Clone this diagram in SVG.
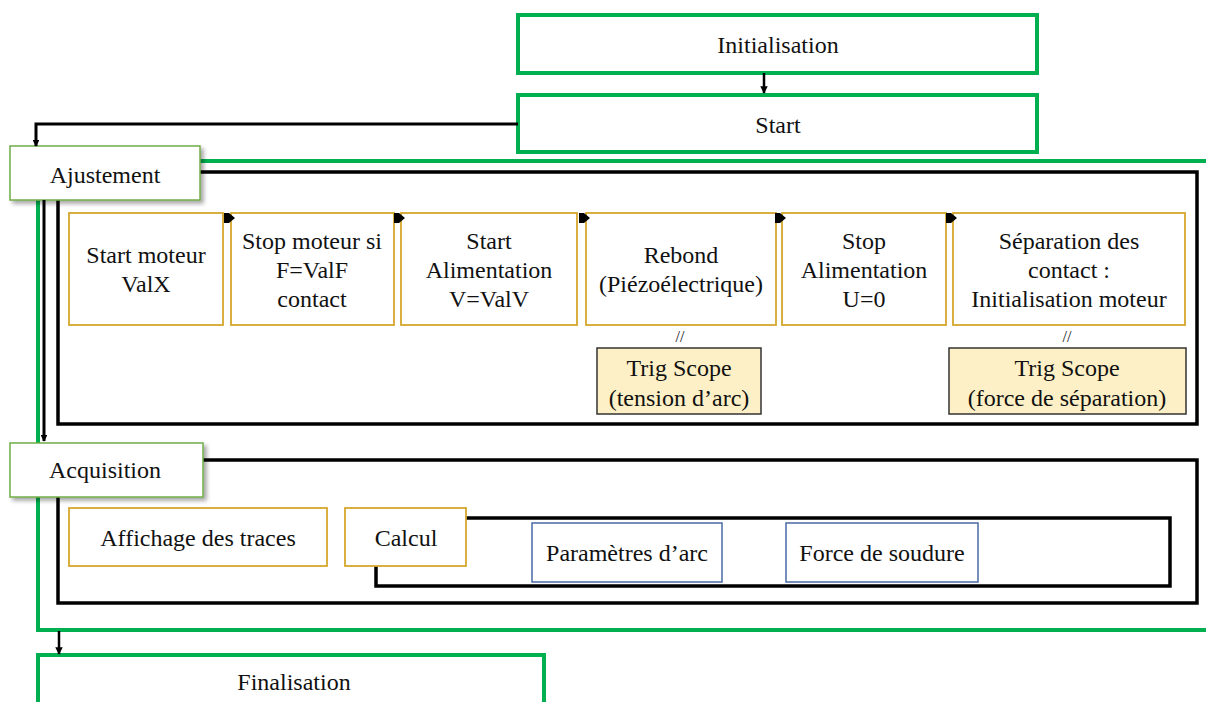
<svg xmlns="http://www.w3.org/2000/svg" width="1206" height="702" viewBox="0 0 1206 702">
<defs>
<style>
text{font-size:24px;fill:#111;text-anchor:middle}
.grn{fill:#fff;stroke:#00b050;stroke-width:4}
.grnl{fill:none;stroke:#00b050;stroke-width:4}
.phase{fill:#fff;stroke:#70ad47;stroke-width:1.5}
.blk{fill:none;stroke:#000;stroke-width:3.5}
.step{fill:#fff;stroke:#d4a72c;stroke-width:1.8}
.res{fill:#fff;stroke:#4a6aa5;stroke-width:1.5}
.trig{fill:#fdf0c6;stroke:#333;stroke-width:1.5}
.con{fill:none;stroke:#000;stroke-width:3}
.con2{fill:none;stroke:#000;stroke-width:2.5}
.sync{font-size:16px}
</style>
<marker id="ah" viewBox="0 0 10 10" refX="9" refY="5" markerWidth="3" markerHeight="3" orient="auto">
<path d="M0,0 L10,5 L0,10 Z" fill="#000"/>
</marker>
<marker id="sh" viewBox="0 0 10 10" refX="9" refY="5" markerWidth="2.2" markerHeight="2.2" orient="auto">
<path d="M0,0 L10,5 L0,10 Z" fill="#000"/>
</marker>
<filter id="shadow" x="-10%" y="-10%" width="130%" height="140%">
<feDropShadow dx="3" dy="3" stdDeviation="2" flood-color="#000" flood-opacity="0.35"/>
</filter>
</defs>

<g id="containers">
<rect class="grnl" x="38" y="161" width="1190" height="469"/>
<rect class="blk" x="58" y="172" width="1139" height="252"/>
<rect class="blk" x="58" y="460" width="1139" height="143"/>
<rect class="blk" x="376" y="518" width="794" height="68"/>
</g>

<g font-family="Liberation Serif, serif">
<g id="initialisation">
<rect class="grn" x="518" y="15" width="519" height="58"/>
<text x="778" y="53">Initialisation</text>
</g>
<g id="start">
<rect class="grn" x="518" y="95" width="519" height="57"/>
<text x="778" y="133">Start</text>
</g>

<g id="ajustement">
<rect class="phase" x="10" y="146" width="190" height="54" filter="url(#shadow)"/>
<text x="105" y="183">Ajustement</text>
</g>

<g id="step1">
<rect class="step" x="69" y="213" width="154" height="112"/>
<text x="146" y="263">Start moteur</text>
<text x="146" y="292">ValX</text>
</g>
<g id="step2">
<rect class="step" x="231" y="213" width="163" height="112"/>
<text x="312" y="249">Stop moteur si</text>
<text x="312" y="278">F=ValF</text>
<text x="312" y="307">contact</text>
</g>
<g id="step3">
<rect class="step" x="401" y="213" width="176" height="112"/>
<text x="489" y="249">Start</text>
<text x="489" y="278">Alimentation</text>
<text x="489" y="307">V=ValV</text>
</g>
<g id="step4">
<rect class="step" x="586" y="213" width="190" height="112"/>
<text x="681" y="263">Rebond</text>
<text x="681" y="292">(Piézoélectrique)</text>
</g>
<g id="step5">
<rect class="step" x="782" y="213" width="164" height="112"/>
<text x="864" y="249">Stop</text>
<text x="864" y="278">Alimentation</text>
<text x="864" y="307">U=0</text>
</g>
<g id="step6">
<rect class="step" x="953" y="213" width="232" height="112"/>
<text x="1069" y="249">Séparation des</text>
<text x="1069" y="278">contact :</text>
<text x="1069" y="307">Initialisation moteur</text>
</g>

<g id="sync1">
<text class="sync" x="680" y="342">//</text>
</g>
<g id="trig1">
<rect class="trig" x="597" y="348" width="164" height="66"/>
<text x="679" y="376">Trig Scope</text>
<text x="679" y="406">(tension d’arc)</text>
</g>
<g id="sync2">
<text class="sync" x="1067" y="342">//</text>
</g>
<g id="trig2">
<rect class="trig" x="949" y="348" width="237" height="66"/>
<text x="1067" y="376">Trig Scope</text>
<text x="1067" y="406">(force de séparation)</text>
</g>

<g id="acquisition">
<rect class="phase" x="10" y="443" width="193" height="54" filter="url(#shadow)"/>
<text x="105" y="478">Acquisition</text>
</g>
<g id="affichage">
<rect class="step" x="69" y="508" width="258" height="58"/>
<text x="198" y="546">Affichage des traces</text>
</g>
<g id="calcul">
<rect class="step" x="345" y="508" width="121" height="58"/>
<text x="406" y="546">Calcul</text>
</g>
<g id="parametres">
<rect class="res" x="532" y="523" width="190" height="59"/>
<text x="627" y="561">Paramètres d’arc</text>
</g>
<g id="force">
<rect class="res" x="786" y="523" width="192" height="59"/>
<text x="882" y="561">Force de soudure</text>
</g>

<g id="finalisation">
<rect class="grn" x="38" y="655" width="506" height="60"/>
<text x="294" y="690">Finalisation</text>
</g>
</g>

<g id="connectors">
<path class="con2" d="M764,73 V93" marker-end="url(#ah)"/>
<path class="con" d="M518,124 H36 V146" marker-end="url(#sh)"/>
<path class="con" d="M44,200 V441" marker-end="url(#sh)"/>
<path class="con2" d="M59,631 V654" marker-end="url(#ah)"/>
<path d="M224,213 H229 L235,218 L229,223 H224 Z" fill="#000"/>
<path d="M394,213 H399 L405,218 L399,223 H394 Z" fill="#000"/>
<path d="M579,213 H584 L590,218 L584,223 H579 Z" fill="#000"/>
<path d="M775,213 H780 L786,218 L780,223 H775 Z" fill="#000"/>
<path d="M946,213 H951 L957,218 L951,223 H946 Z" fill="#000"/>
</g>
</svg>
